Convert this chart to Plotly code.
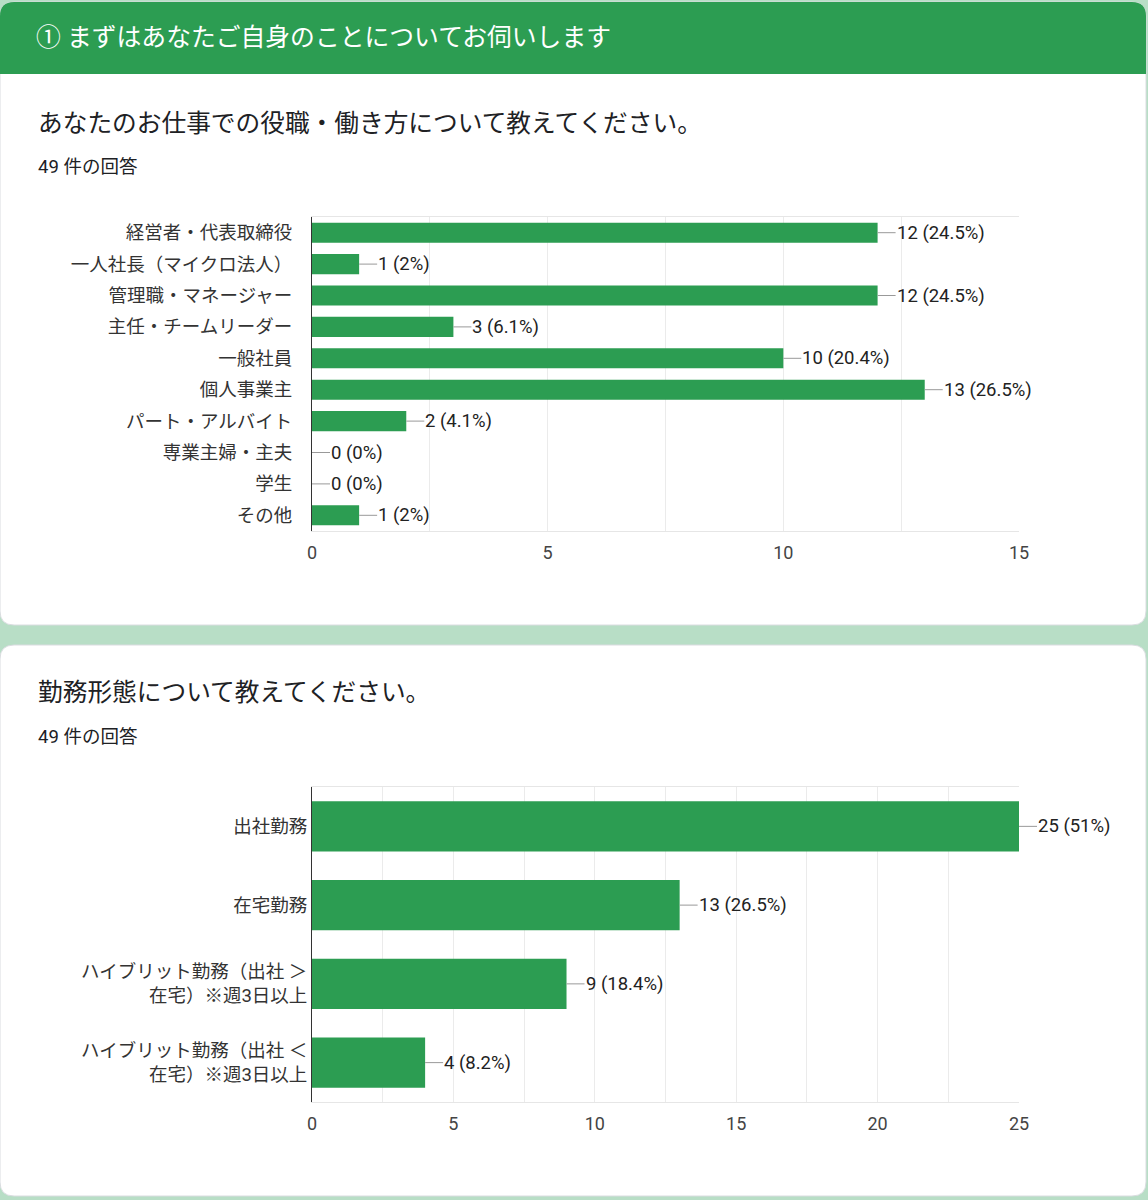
import plotly.graph_objects as go

# data
total = 49

roles = ["経営者・代表取締役", "一人社長（マイクロ法人）", "管理職・マネージャー", "主任・チームリーダー",
         "一般社員", "個人事業主", "パート・アルバイト", "専業主婦・主夫", "学生", "その他"]
role_counts = [12, 1, 12, 3, 10, 13, 2, 0, 0, 1]

styles = ["出社勤務", "在宅勤務",
          "ハイブリット勤務（出社 ＞<br>在宅）※週3日以上",
          "ハイブリット勤務（出社 ＜<br>在宅）※週3日以上"]
style_counts = [25, 13, 9, 4]

role_ticks = [0, 5, 10, 15]
style_ticks = [0, 5, 10, 15, 20, 25]

W, H = 1148, 1200
GREEN = "#2c9d52"
BG = "#b8dec6"
FONT = "Roboto, Noto Sans CJK JP, sans-serif"


def px(x):
    return x / W


def py(y):
    return 1 - y / H


def label(n):
    pct = round(n / total * 100, 1)
    s = f"{pct:.1f}".rstrip("0").rstrip(".")
    return f"{n} ({s}%)"


def rounded(x0, y0, x1, y1, r_top, r_bot):
    # path in paper coords built from pixel values
    rx, ry = r_top / W, r_top / H
    bx, by = r_bot / W, r_bot / H
    X0, X1, Y0, Y1 = px(x0), px(x1), py(y0), py(y1)
    return (f"M {X0+rx} {Y0} L {X1-rx} {Y0} Q {X1} {Y0} {X1} {Y0-ry} "
            f"L {X1} {Y1+by} Q {X1} {Y1} {X1-bx} {Y1} "
            f"L {X0+bx} {Y1} Q {X0} {Y1} {X0} {Y1+by} "
            f"L {X0} {Y0-ry} Q {X0} {Y0} {X0+rx} {Y0} Z")


fig = go.Figure()
fig.add_trace(go.Bar(x=role_counts, y=roles, orientation="h", marker_color=GREEN,
                     marker_line_width=0, xaxis="x", yaxis="y", hoverinfo="skip"))
fig.add_trace(go.Bar(x=style_counts, y=styles, orientation="h", marker_color=GREEN,
                     marker_line_width=0, xaxis="x2", yaxis="y2", hoverinfo="skip"))

annotations = []
for cat, n in zip(roles, role_counts):
    annotations.append(dict(x=n, y=cat, xref="x", yref="y", text=label(n), showarrow=True,
                            arrowhead=0, arrowwidth=1, arrowcolor="#999999", ax=18, ay=0,
                            xanchor="left", borderpad=0, font=dict(size=18.5, color="#222222")))
for cat, n in zip(styles, style_counts):
    annotations.append(dict(x=n, y=cat, xref="x2", yref="y2", text=label(n), showarrow=True,
                            arrowhead=0, arrowwidth=1, arrowcolor="#999999", ax=18, ay=0,
                            xanchor="left", borderpad=0, font=dict(size=18.5, color="#222222")))

texts = [
    ("① まずはあなたご自身のことについてお伺いします", 34, 37, 24.8, "#ffffff"),
    ("あなたのお仕事での役職・働き方について教えてください。", 36, 123, 24.7, "#202124"),
    ("49 件の回答", 36, 167, 18.5, "#202124"),
    ("勤務形態について教えてください。", 36, 692, 24.7, "#202124"),
    ("49 件の回答", 36, 737, 18.5, "#202124"),
]
for t, x, y, s, c in texts:
    annotations.append(dict(text=t, x=px(x), y=py(y), xref="paper", yref="paper",
                            xanchor="left", yanchor="middle", showarrow=False,
                            font=dict(size=s, color=c)))

shapes = [
    dict(type="path", path=rounded(0, 2, 1146, 625, 14, 14), xref="paper", yref="paper",
         fillcolor="white", line=dict(color="#dadce0", width=1), layer="below"),
    dict(type="path", path=rounded(0, 2, 1146, 74, 14, 0), xref="paper", yref="paper",
         fillcolor=GREEN, line=dict(width=0), layer="below"),
    dict(type="path", path=rounded(0, 645, 1146, 1196, 14, 14), xref="paper", yref="paper",
         fillcolor="white", line=dict(color="#dadce0", width=1), layer="below"),
]

xcommon = dict(showgrid=True, gridcolor="#ebebeb", gridwidth=1, zeroline=False,
               showline=True, mirror=True, linecolor="#e6e6e6", ticks="", automargin=False,
               tickfont=dict(size=18, color="#444444"), ticklabelstandoff=5, fixedrange=True)
ycommon = dict(autorange="reversed", showgrid=False, zeroline=False, showline=True,
               linecolor="#333333", linewidth=1, ticks="", automargin=False,
               tickfont=dict(size=18.5, color="#333333"), fixedrange=True)

fig.update_layout(
    width=W, height=H,
    autosize=False,
    margin=dict(l=0, r=0, t=0, b=0, pad=0, autoexpand=False),
    paper_bgcolor=BG, plot_bgcolor="rgba(0,0,0,0)",
    font=dict(family=FONT),
    showlegend=False,
    bargap=0.36,
    xaxis=dict(domain=[px(312), px(1019)], anchor="y", range=[0, 15], tickvals=role_ticks,
               minor=dict(dtick=2.5, showgrid=True, gridcolor="#ebebeb"), **xcommon),
    yaxis=dict(domain=[py(531), py(217)], anchor="x", ticklabelstandoff=15, **ycommon),
    xaxis2=dict(domain=[px(312), px(1019)], anchor="y2", range=[0, 25], tickvals=style_ticks,
                minor=dict(dtick=2.5, showgrid=True, gridcolor="#ebebeb"), **xcommon),
    yaxis2=dict(domain=[py(1102), py(787)], anchor="x2", ticklabelstandoff=0, **ycommon),
    shapes=shapes,
    annotations=annotations,
)

fig.write_html("out.html", config={"displayModeBar": False},
               post_script="document.body.style.margin='0px';")
